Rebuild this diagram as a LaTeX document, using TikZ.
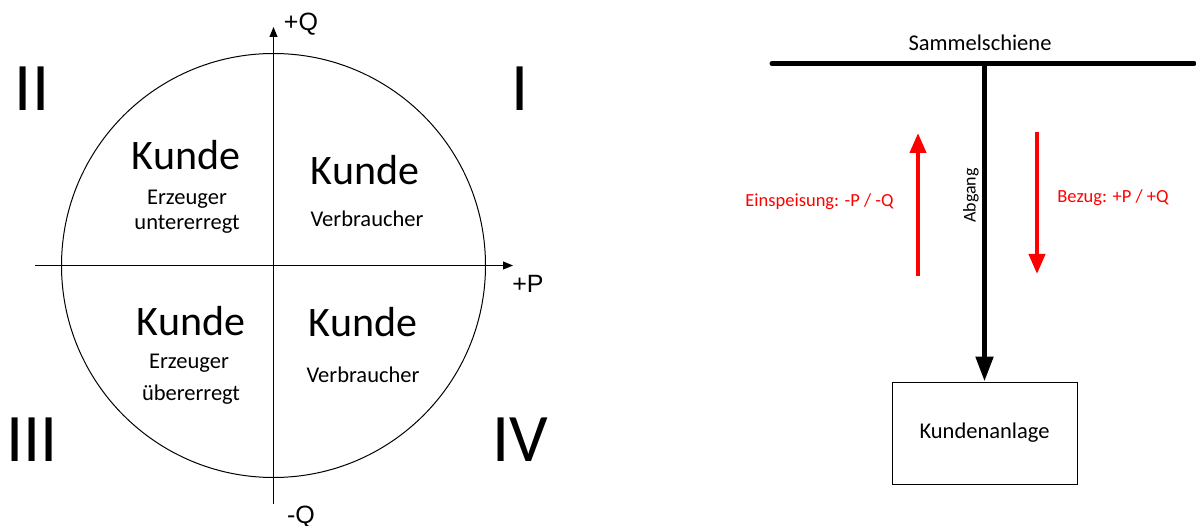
\documentclass[tikz,border=0pt]{standalone}
\usepackage{fontspec}
\setmainfont{Carlito}
\newfontfamily\arialfont{Liberation Sans}
\usetikzlibrary{arrows.meta}
\tikzset{
  fsz/.style={font=\fontsize{#1}{#1}\selectfont},
  roman/.style={fsz=68, inner sep=0pt},
  kunde/.style={fsz=42, inner sep=0pt, anchor=base},
  sub/.style={fsz=22.5, inner sep=0pt, anchor=base},
  axlbl/.style={font=\arialfont\fontsize{25}{25}\selectfont, inner sep=0pt, anchor=base},
  axis/.style={line width=0.9pt, -{Triangle[length=10pt,width=8pt]}},
  redtxt/.style={fsz=18.5, text=red, inner sep=0pt, anchor=base},
  redarrow/.style={draw=red, line width=4pt, -{Triangle[length=20pt,width=16pt]}},
  busline/.style={line width=5pt, line cap=round},
  feeder/.style={line width=5pt, -{Triangle[length=25pt,width=17pt]}},
  plantbox/.style={draw, line width=1pt, minimum width=185pt, minimum height=102pt, fsz=22.5, inner sep=0pt}
}
\begin{document}
\begin{tikzpicture}[x=1pt,y=-1pt]
\useasboundingbox (0,0) rectangle (1196,526);
% circle
\node[circle, draw, line width=1pt, minimum size=424pt, inner sep=0pt] (circ) at (273.5,265.5) {};
% axes
\coordinate (qbot) at (273.5,504);
\coordinate (qtop) at (273.5,27);
\coordinate (pleft) at (35,265.5);
\coordinate (pright) at (513,265.5);
\draw[axis] (qbot) -- (qtop);
\draw[axis] (pleft) -- (pright);
\node[axlbl] (lq) at (301,31) {+Q};
\node[axlbl] (lp) at (528,293) {+P};
\node[axlbl] (lmq) at (301,523) {-Q};
% quadrant numerals
\node[roman] (r2) at (32,89) {II};
\node[roman] (r1) at (520,89) {I};
\node[roman] (r3) at (32,440) {III};
\node[roman] (r4) at (520,440) {IV};
% quadrant texts
\node[kunde] (k2) at (186,170) {Kunde};
\node[sub] (e2) at (187,205) {Erzeuger};
\node[sub] (u2) at (187,230) {untererregt};
\node[kunde] (k1) at (365,185) {Kunde};
\node[sub] (v1) at (367,227) {Verbraucher};
\node[kunde] (k3) at (191,335) {Kunde};
\node[sub] (e3) at (189,368) {Erzeuger};
\node[sub] (u3) at (191,400) {übererregt};
\node[kunde] (k4) at (363,337) {Kunde};
\node[sub] (v4) at (363,382) {Verbraucher};
% right side
\coordinate (busl) at (772,63.5);
\coordinate (busr) at (1194,63.5);
\coordinate (junc) at (984.5,63.5);
\draw[busline] (busl) -- (busr);
\node[sub] (sam) at (980,51) {Sammelschiene};
\node[plantbox] (plant) at (984.5,433) {Kundenanlage};
\draw[feeder] (junc) -- (plant.north);
\node[fsz=18, inner sep=0pt, rotate=90] (abg) at (971,195.5) {Abgang};
% red arrows
\coordinate (ua) at (918,276);
\coordinate (ub) at (918,133);
\coordinate (da) at (1037,132);
\coordinate (db) at (1037,274);
\draw[redarrow] (ua) -- (ub);
\draw[redarrow] (da) -- (db);
\node[redtxt] (ein) at (819.5,207) {Einspeisung: -P / -Q};
\node[redtxt] (bez) at (1113,203) {Bezug: +P / +Q};
\end{tikzpicture}
\end{document}
